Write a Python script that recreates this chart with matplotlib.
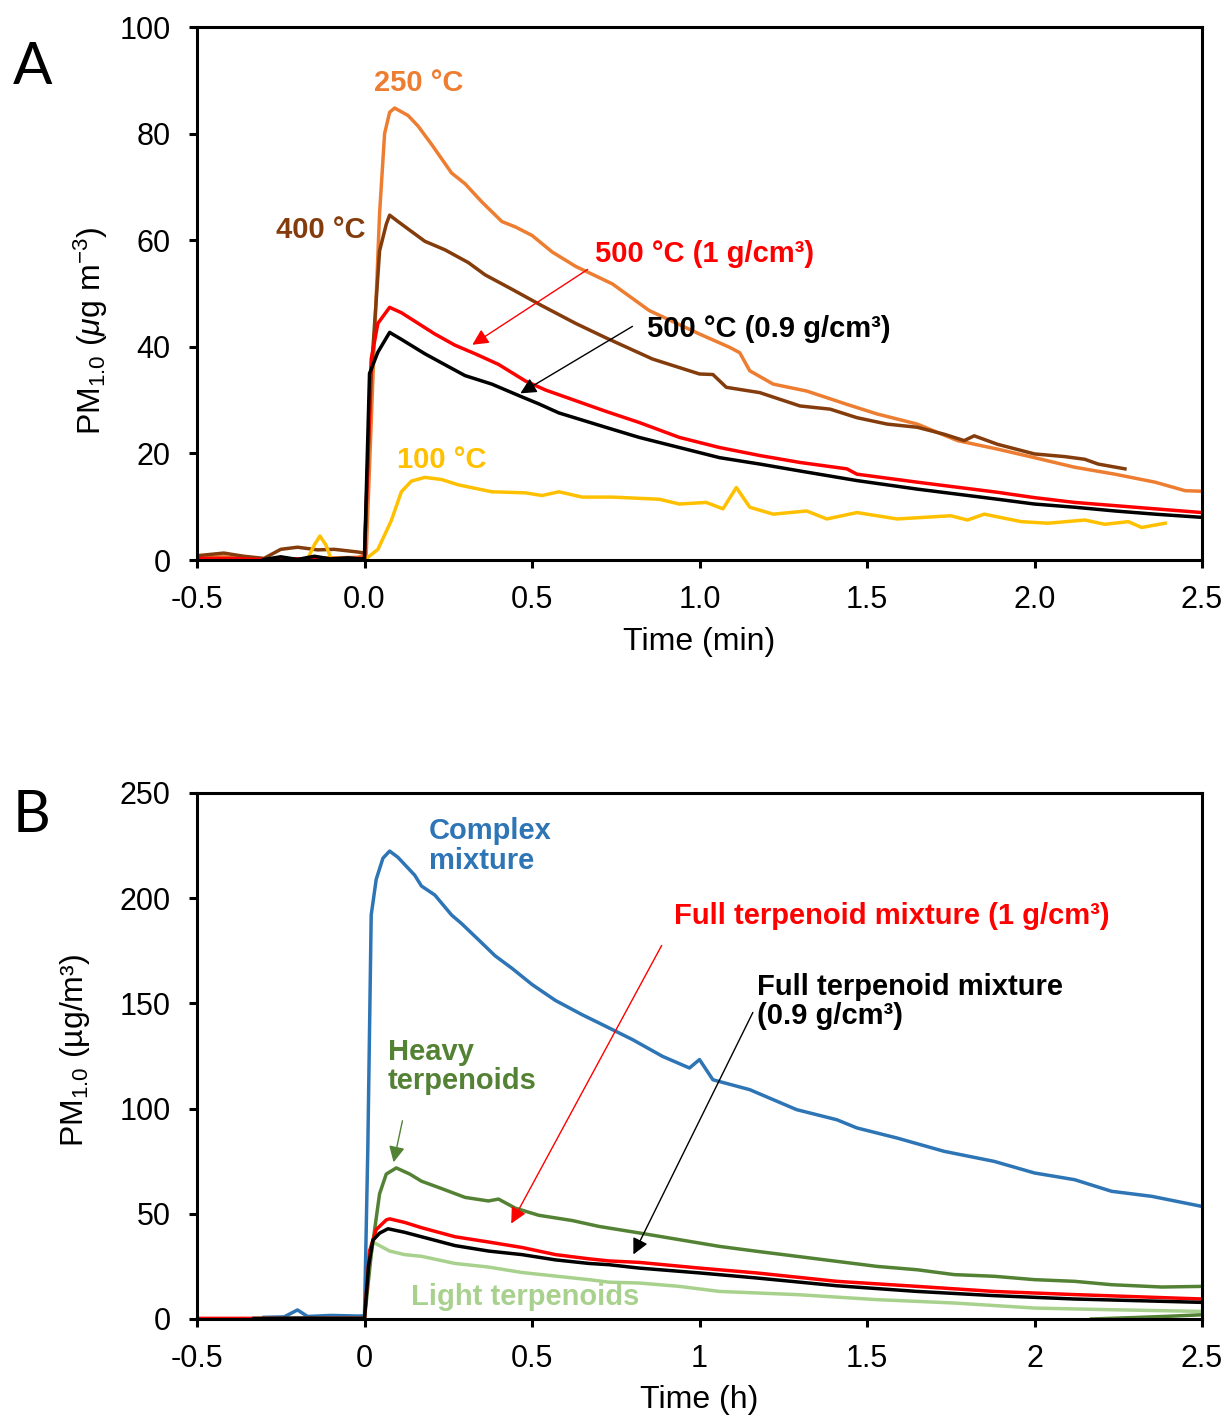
import matplotlib
matplotlib.use("Agg")
import matplotlib.pyplot as plt

plt.rcParams['font.family'] = ['Liberation Sans', 'DejaVu Sans']
plt.rcParams['mathtext.fontset'] = 'custom'
plt.rcParams['mathtext.rm'] = 'Liberation Sans'
plt.rcParams['mathtext.it'] = 'Liberation Sans:italic'
plt.rcParams['axes.unicode_minus'] = False

# ---------------- Panel A data (time in min, PM1.0 in ug/m3) ----------------
t250 = [-0.5, -0.42, -0.35, -0.28, -0.2, -0.1, -0.02, 0.005, 0.025, 0.045, 0.06, 0.075, 0.09,
        0.13, 0.16, 0.20, 0.26, 0.30, 0.35, 0.41, 0.45, 0.50, 0.56, 0.63, 0.70, 0.74, 0.85,
        1.0, 1.09, 1.12, 1.15, 1.22, 1.32, 1.44, 1.53, 1.65, 1.77, 1.89, 2.0, 2.12, 2.24,
        2.36, 2.45, 2.5]
y250 = [0.5, 0.6, 0.2, 0.1, 0.2, 0.4, 0.5, 1.0, 34, 65, 80, 84, 84.8,
        83.4, 81.4, 78, 72.6, 70.6, 67.2, 63.5, 62.5, 60.9, 57.8, 55.1, 53.0, 51.8, 46.8,
        42.4, 39.9, 38.9, 35.5, 33.0, 31.7, 29.2, 27.4, 25.5, 22.4, 20.8, 19.2, 17.4, 16.1,
        14.6, 13.0, 12.9]

t400 = [-0.5, -0.42, -0.36, -0.3, -0.25, -0.2, -0.14, -0.09, -0.02, 0.0, 0.02, 0.045, 0.065,
        0.075, 0.1, 0.18, 0.24, 0.31, 0.36, 0.44, 0.53, 0.63, 0.72, 0.86, 1.0, 1.04, 1.08,
        1.18, 1.30, 1.39, 1.47, 1.56, 1.65, 1.73, 1.79, 1.82, 1.89, 2.0, 2.09, 2.15, 2.19, 2.27]
y400 = [0.8, 1.3, 0.7, 0.3, 2.0, 2.4, 1.9, 2.0, 1.5, 1.3, 35, 58, 63,
        64.7, 63.5, 59.8, 58.2, 55.8, 53.5, 50.8, 47.7, 44.4, 41.7, 37.7, 34.9, 34.8, 32.4,
        31.4, 28.9, 28.3, 26.7, 25.5, 24.9, 23.6, 22.4, 23.3, 21.7, 19.9, 19.4, 18.9, 18.0, 17.1]

t500a = [-0.5, -0.4, -0.3, -0.2, -0.1, -0.02, 0.0, 0.02, 0.04, 0.075, 0.11, 0.16, 0.21, 0.27,
         0.33, 0.40, 0.48, 0.54, 0.63, 0.72, 0.82, 0.94, 1.06, 1.18, 1.30, 1.44, 1.47, 1.65,
         1.89, 2.0, 2.12, 2.24, 2.36, 2.5]
y500a = [0.3, 0.3, 0.1, 0.2, 0.2, 0.3, 0.3, 37.7, 44.4, 47.4, 46.4, 44.4, 42.4, 40.3,
         38.7, 36.7, 33.6, 31.9, 29.9, 27.9, 25.8, 23.0, 21.1, 19.6, 18.3, 17.1, 16.1, 14.6,
         12.7, 11.7, 10.8, 10.2, 9.6, 8.9]

t500b = [-0.3, -0.25, -0.2, -0.15, -0.1, -0.05, -0.01, 0.0, 0.015, 0.04, 0.075, 0.11, 0.18,
         0.25, 0.30, 0.38, 0.47, 0.52, 0.58, 0.72, 0.82, 0.94, 1.06, 1.18, 1.30, 1.47, 1.65,
         1.89, 2.0, 2.12, 2.24, 2.36, 2.5]
y500b = [0.1, 0.6, 0.1, 0.7, 0.2, 0.4, 0.2, 0.3, 35, 39, 42.7, 41.4, 38.7,
         36.3, 34.6, 33.0, 30.6, 29.3, 27.6, 24.9, 23.0, 21.1, 19.2, 18.0, 16.7, 14.9, 13.3,
         11.4, 10.5, 9.9, 9.2, 8.6, 8.0]

t100 = [-0.37, -0.2, -0.17, -0.15, -0.133, -0.115, -0.10, -0.05, 0.0, 0.04, 0.08, 0.11, 0.14,
        0.18, 0.23, 0.28, 0.38, 0.48, 0.53, 0.58, 0.65, 0.74, 0.88, 0.94, 1.02, 1.07, 1.11,
        1.15, 1.22, 1.32, 1.38, 1.47, 1.59, 1.75, 1.80, 1.85, 1.96, 2.04, 2.15, 2.21, 2.28,
        2.32, 2.39]
y100 = [0.0, 0.0, 0.2, 2.8, 4.5, 2.8, 0.2, 0.0, 0.0, 2.0, 7.4, 12.8, 14.8,
        15.5, 15.1, 14.1, 12.8, 12.6, 12.1, 12.8, 11.8, 11.8, 11.4, 10.5, 10.8, 9.6, 13.6,
        9.9, 8.6, 9.2, 7.7, 8.9, 7.7, 8.3, 7.5, 8.6, 7.2, 6.9, 7.5, 6.7, 7.2,
        6.1, 6.9]

# ---------------- Panel B data (time in h, PM1.0 in ug/m3) ----------------
t_cx = [-0.3, -0.24, -0.2, -0.17, -0.1, -0.02, 0.0, 0.01, 0.02, 0.035, 0.055, 0.075, 0.10,
        0.15, 0.17, 0.21, 0.26, 0.29, 0.34, 0.39, 0.44, 0.50, 0.57, 0.65, 0.70, 0.80, 0.89,
        0.97, 1.0, 1.04, 1.15, 1.29, 1.41, 1.47, 1.59, 1.73, 1.88, 2.0, 2.12, 2.23, 2.35, 2.5]
y_cx = [0.8, 1.0, 4.3, 1.2, 1.7, 1.4, 1.5, 82, 192, 209, 219, 222.4, 219.4,
        210.9, 205.8, 201.5, 192, 187.9, 180.3, 172.6, 166.7, 159, 151.4, 144.6, 140.7, 132.8, 124.8,
        119.3, 123.3, 113.7, 109, 99.5, 94.7, 90.8, 86, 79.7, 74.9, 69.4, 66.2, 60.7, 58.3, 53.5]

t_hv = [-0.33, -0.2, -0.1, 0.0, 0.02, 0.045, 0.065, 0.095, 0.135, 0.17, 0.23, 0.30, 0.37, 0.40,
        0.45, 0.52, 0.62, 0.70, 0.82, 1.0, 1.06, 1.17, 1.29, 1.41, 1.53, 1.65, 1.76, 1.88,
        2.0, 2.12, 2.23, 2.38, 2.5]
y_hv = [0.2, 0.3, 0.2, 0.2, 30.6, 59.5, 68.9, 71.8, 68.9, 65.5, 62.0, 57.8, 56.1, 57.0,
        52.7, 49.3, 46.8, 44.0, 40.9, 36.1, 34.5, 32.2, 29.8, 27.4, 25.0, 23.4, 21.1, 20.3,
        18.7, 17.9, 16.3, 15.2, 15.5]

t_hv2 = [2.17, 2.3, 2.4, 2.5]
y_hv2 = [0.0, 0.7, 1.3, 2.0]

t_lt = [-0.33, -0.2, -0.1, 0.0, 0.01, 0.025, 0.075, 0.12, 0.17, 0.27, 0.37, 0.47, 0.57, 0.67,
        0.73, 0.82, 0.94, 1.06, 1.29, 1.53, 1.76, 2.0, 2.23, 2.5]
y_lt = [0.3, 0.2, 0.3, 0.3, 20, 36.6, 32.3, 30.6, 29.8, 26.4, 24.7, 22.1, 20.4, 18.7,
        17.5, 17.1, 15.5, 13.1, 11.6, 9.2, 7.6, 5.2, 4.4, 3.6]

t_f1 = [-0.5, -0.4, -0.3, -0.2, -0.1, 0.0, 0.015, 0.035, 0.065, 0.075, 0.12, 0.17, 0.27, 0.37,
        0.47, 0.57, 0.67, 0.73, 0.82, 1.0, 1.17, 1.41, 1.65, 1.88, 2.12, 2.5]
y_f1 = [0.3, 0.3, 0.3, 0.2, 0.3, 0.3, 32.3, 42.5, 47.1, 47.6, 45.9, 43.4, 39.1, 36.6,
        34.0, 30.6, 28.6, 27.6, 26.9, 24.2, 21.9, 17.9, 15.5, 13.1, 11.6, 9.5]

t_f09 = [-0.33, -0.2, -0.1, 0.0, 0.012, 0.025, 0.045, 0.07, 0.12, 0.17, 0.27, 0.37, 0.47, 0.57,
         0.67, 0.73, 0.82, 1.0, 1.17, 1.41, 1.65, 1.88, 2.12, 2.5]
y_f09 = [0.2, 0.4, 0.3, 0.3, 25, 37.4, 40.8, 42.9, 41.2, 39.1, 34.9, 32.3, 30.6, 28.1,
         26.4, 25.8, 24.2, 21.9, 19.5, 15.8, 13.1, 11.1, 9.5, 7.9]

ORANGE = '#ED7D31'
BROWN = '#843C0C'
RED = '#FF0000'
YELLOW = '#FFC000'
BLUE = '#2E75B6'
GREEN = '#548235'
LGREEN = '#A9D18E'

fig = plt.figure(figsize=(12.29, 14.18), dpi=100)

def style_axes(ax):
    for s in ax.spines.values():
        s.set_linewidth(2.2)
    ax.tick_params(direction='out', length=6, width=2.2, labelsize=22)
    ax.tick_params(axis='x', pad=12)
    ax.tick_params(axis='y', pad=13)

lw = 2.5
fs = 21

# ================= Panel A =================
axA = fig.add_axes([197 / 1229, 1 - 560 / 1418, 1005 / 1229, 533 / 1418])
axA.plot(t250, y250, color=ORANGE, lw=lw)
axA.plot(t400, y400, color=BROWN, lw=lw)
axA.plot(t100, y100, color=YELLOW, lw=lw)
axA.plot(t500a, y500a, color=RED, lw=lw)
axA.plot(t500b, y500b, color='black', lw=lw)
axA.set_xlim(-0.5, 2.5)
axA.set_ylim(0, 100)
axA.set_xticks([-0.5, 0, 0.5, 1.0, 1.5, 2.0, 2.5])
axA.set_xticklabels(['-0.5', '0.0', '0.5', '1.0', '1.5', '2.0', '2.5'])
axA.set_yticks([0, 20, 40, 60, 80, 100])
style_axes(axA)
axA.set_xlabel('Time (min)', fontsize=23)
axA.xaxis.label.set_va('center')
axA.xaxis.set_label_coords(0.5, -0.154)
axA.set_ylabel('PM$_{1.0}$ ($\\mathit{\\mu}$g m$^{-3}$)', fontsize=23)
axA.yaxis.label.set_va('center')
axA.yaxis.set_label_coords(-0.106, 0.43)

axA.text(0.163, 89.5, '250 °C', color=ORANGE, fontsize=fs, weight='bold', ha='center', va='center')
axA.text(-0.13, 62, '400 °C', color=BROWN, fontsize=fs, weight='bold', ha='center', va='center')
axA.text(0.688, 57.4, '500 °C (1 g/cm³)', color=RED, fontsize=fs, weight='bold', ha='left', va='center')
axA.text(0.843, 43.3, '500 °C (0.9 g/cm³)', color='black', fontsize=fs, weight='bold', ha='left', va='center')
axA.text(0.231, 18.8, '100 °C', color=YELLOW, fontsize=fs, weight='bold', ha='center', va='center')
axA.annotate('', xy=(0.315, 40.1), xytext=(0.673, 54.8),
             arrowprops=dict(arrowstyle='-|>', color=RED, lw=1, mutation_scale=24))
axA.annotate('', xy=(0.458, 31.0), xytext=(0.807, 44.1),
             arrowprops=dict(arrowstyle='-|>', color='black', lw=1, mutation_scale=24))

# ================= Panel B =================
axB = fig.add_axes([197 / 1229, 1 - 1319 / 1418, 1005 / 1229, 526 / 1418])
axB.plot(t_cx, y_cx, color=BLUE, lw=lw)
axB.plot(t_lt, y_lt, color=LGREEN, lw=lw)
axB.plot(t_hv, y_hv, color=GREEN, lw=lw)
axB.plot(t_hv2, y_hv2, color=GREEN, lw=lw)
axB.plot(t_f1, y_f1, color=RED, lw=lw)
axB.plot(t_f09, y_f09, color='black', lw=lw)
axB.set_xlim(-0.5, 2.5)
axB.set_ylim(0, 250)
axB.set_xticks([-0.5, 0, 0.5, 1, 1.5, 2, 2.5])
axB.set_xticklabels(['-0.5', '0', '0.5', '1', '1.5', '2', '2.5'])
axB.set_yticks([0, 50, 100, 150, 200, 250])
style_axes(axB)
axB.set_xlabel('Time (h)', fontsize=23)
axB.xaxis.label.set_va('center')
axB.xaxis.set_label_coords(0.5, -0.154)
axB.set_ylabel('PM$_{1.0}$ (µg/m³)', fontsize=23)
axB.yaxis.label.set_va('center')
axB.yaxis.set_label_coords(-0.121, 0.51)

axB.text(0.193, 224.8, 'Complex\nmixture', color=BLUE, fontsize=fs, weight='bold',
         ha='left', va='center', linespacing=1.05)
axB.text(0.070, 119.8, 'Heavy\nterpenoids', color=GREEN, fontsize=fs, weight='bold',
         ha='left', va='center', linespacing=1.05)
axB.text(0.924, 191.5, 'Full terpenoid mixture (1 g/cm³)', color=RED, fontsize=fs,
         weight='bold', ha='left', va='center')
axB.text(1.172, 151.1, 'Full terpenoid mixture\n(0.9 g/cm³)', color='black', fontsize=fs,
         weight='bold', ha='left', va='center', linespacing=1.05)
axB.text(0.139, 10.5, 'Light terpenoids', color=LGREEN, fontsize=fs, weight='bold',
         ha='left', va='center')
axB.annotate('', xy=(0.085, 73.2), xytext=(0.115, 95.5),
             arrowprops=dict(arrowstyle='-|>', color=GREEN, lw=1, mutation_scale=24))
axB.annotate('', xy=(0.434, 44.2), xytext=(0.891, 178.7),
             arrowprops=dict(arrowstyle='-|>', color=RED, lw=1, mutation_scale=24))
axB.annotate('', xy=(0.799, 29.5), xytext=(1.163, 146.9),
             arrowprops=dict(arrowstyle='-|>', color='black', lw=1, mutation_scale=24))

# panel letters
fig.text(33 / 1229, 1 - 67 / 1418, 'A', fontsize=42, family=['Lato', 'DejaVu Sans'],
         ha='center', va='center')
fig.text(32 / 1229, 1 - 815 / 1418, 'B', fontsize=42, family=['Lato', 'DejaVu Sans'],
         ha='center', va='center')

fig.savefig('out.png', dpi=100, facecolor='white')
